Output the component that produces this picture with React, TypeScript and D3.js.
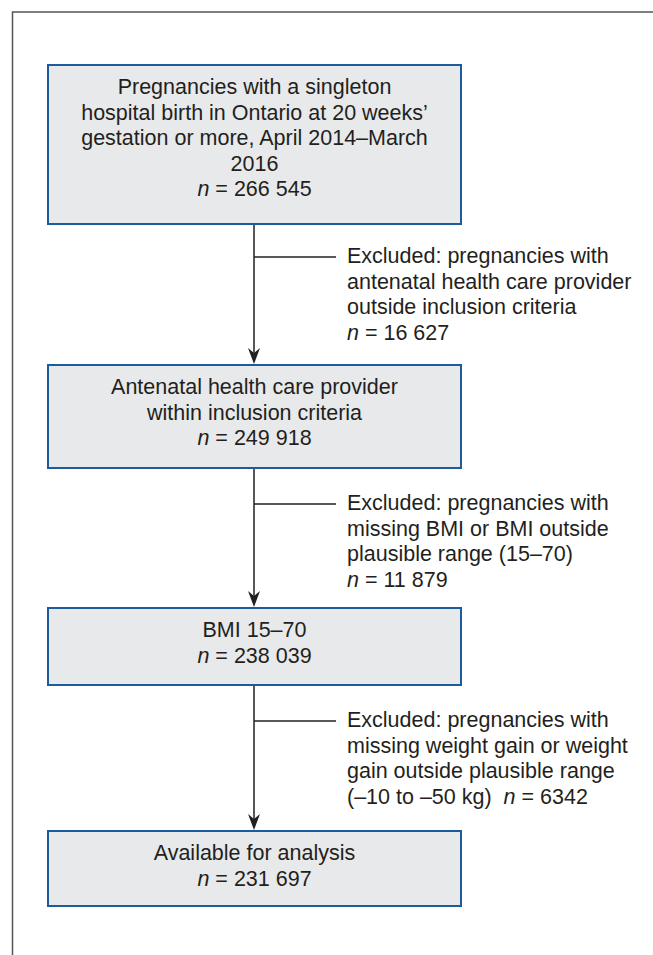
import React, { useEffect } from 'react';
import * as d3 from 'd3';

// Flow chart content
const boxLines: string[][] = [
  ['Pregnancies with a singleton', 'hospital birth in Ontario at 20 weeks\u2019', 'gestation or more, April 2014\u2013March', '2016'],
  ['Antenatal health care provider', 'within inclusion criteria'],
  ['BMI 15\u201370'],
  ['Available for analysis'],
];
const boxCounts = ['266 545', '249 918', '238 039', '231 697'];

const exclusionLines: string[][] = [
  ['Excluded: pregnancies with', 'antenatal health care provider', 'outside inclusion criteria'],
  ['Excluded: pregnancies with', 'missing BMI or BMI outside', 'plausible range (15\u201370)'],
  ['Excluded: pregnancies with', 'missing weight gain or weight', 'gain outside plausible range'],
];
const exclusionCounts = ['16 627', '11 879', '6342'];
// last exclusion puts the count on the same line as its final text
const exclusionInlinePrefix = ['', '', '(\u201310 to \u201350 kg)  '];

const W = 653;
const H = 955;
const FONT = '"Liberation Sans", Arial, Helvetica, sans-serif';
const TEXT = '#231f20';
const BOX_STROKE = '#1d5b9c';
const BOX_FILL = '#e8e9eb';
const FS = 21.5;

const boxLeft = 48;
const boxRight = 461;
const boxTop = [65, 365, 608, 831];
const boxBottom = [224, 468, 685, 906];
const firstBaseline = 29;
const lineH = 25.5;
const flowX = 254;
const branchEnd = 336;
const exclX = 347;
const exclBaseline = [263, 510, 727];

const arrowHead = (x: number, tip: number) => {
  const p = d3.path();
  p.moveTo(x, tip);
  p.lineTo(x - 6, tip - 16);
  p.lineTo(x, tip - 11);
  p.lineTo(x + 6, tip - 16);
  p.closePath();
  return p.toString();
};

const line = d3.line<[number, number]>();

export default function App() {
  useEffect(() => {
    document.body.style.margin = '0';
  }, []);

  const cx = (boxLeft + boxRight) / 2;

  return (
    <svg width={W} height={H} style={{ display: 'block', background: '#fff' }} fontFamily={FONT}>
      {/* frame */}
      <path d={line([[653, 12], [12.5, 12], [12.5, 955]]) || ''} fill="none" stroke="#555" strokeWidth={1.5} />

      {/* connectors */}
      {boxTop.slice(1).map((t, i) => (
        <g key={`c${i}`}>
          <path d={line([[flowX, boxBottom[i]], [flowX, t - 4]]) || ''} stroke={TEXT} strokeWidth={1.5} />
          <path d={arrowHead(flowX, t - 1)} fill={TEXT} />
          <path d={line([[flowX, exclBaseline[i] - 6], [branchEnd, exclBaseline[i] - 6]]) || ''} stroke={TEXT} strokeWidth={1.5} />
        </g>
      ))}

      {/* boxes */}
      {boxLines.map((lines, i) => (
        <g key={`b${i}`}>
          <rect x={boxLeft} y={boxTop[i]} width={boxRight - boxLeft} height={boxBottom[i] - boxTop[i]}
            fill={BOX_FILL} stroke={BOX_STROKE} strokeWidth={2} />
          <text fontSize={FS} fill={TEXT} textAnchor="middle">
            {lines.map((l, j) => (
              <tspan key={j} x={cx} y={boxTop[i] + firstBaseline + j * lineH}>{l}</tspan>
            ))}
            <tspan x={cx} y={boxTop[i] + firstBaseline + lines.length * lineH}>
              <tspan fontStyle="italic">n</tspan> = {boxCounts[i]}
            </tspan>
          </text>
        </g>
      ))}

      {/* exclusions */}
      {exclusionLines.map((lines, i) => (
        <text key={`e${i}`} fontSize={FS} fill={TEXT}>
          {lines.map((l, j) => (
            <tspan key={j} x={exclX} y={exclBaseline[i] + j * lineH}>{l}</tspan>
          ))}
          <tspan x={exclX} y={exclBaseline[i] + lines.length * lineH} style={{ whiteSpace: 'pre' }}>
            {exclusionInlinePrefix[i]}
            <tspan fontStyle="italic">n</tspan> = {exclusionCounts[i]}
          </tspan>
        </text>
      ))}
    </svg>
  );
}
